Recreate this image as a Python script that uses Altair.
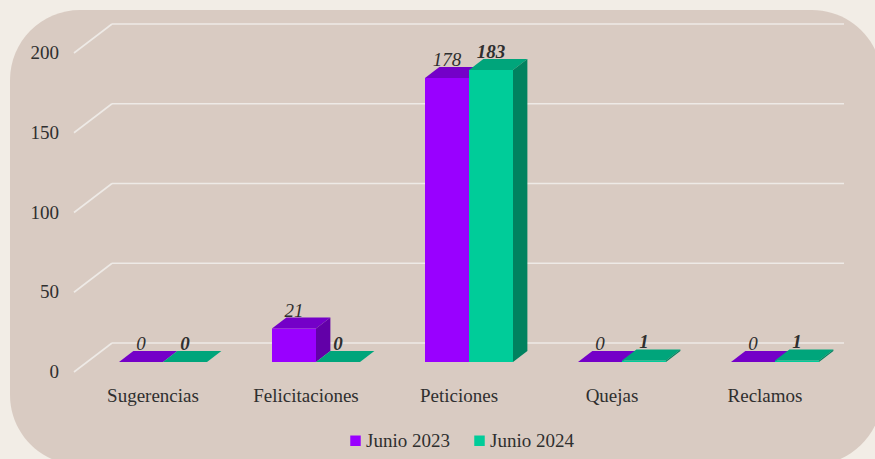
import altair as alt
import pandas as pd

categories = ["Sugerencias", "Felicitaciones", "Peticiones", "Quejas", "Reclamos"]
series = ["Junio 2023", "Junio 2024"]
junio_2023 = [0, 21, 178, 0, 0]
junio_2024 = [0, 0, 183, 1, 1]
y_ticks = [0, 50, 100, 150, 200]

front_colors = ["#9900ff", "#00cc99"]
top_colors = ["#7400c8", "#00a57b"]
side_colors = ["#6200a8", "#00825f"]
TEXT = "#2f2f2f"
FONT = "'Liberation Serif', 'Times New Roman', serif"

HALF = 0.2876   # bar width in category units
DX = 0.094      # depth offset (x, category units)
DY = 6.9        # depth offset (y, value units)

xs = alt.Scale(domain=[0, 5], range=[86.5, 851.5], nice=False, zero=False)
ys = alt.Scale(domain=[0, 200], range=[362, 43], nice=False, zero=False)

front_rows, top_rows, side_rows = [], [], []
for s_i, (name, vals) in enumerate(zip(series, [junio_2023, junio_2024])):
    for i, (cat, v) in enumerate(zip(categories, vals)):
        c = i + 0.5
        x0 = c - HALF + s_i * HALF
        x1 = x0 + HALF
        front_rows.append({"series": name, "cat": cat, "value": v, "x0": x0, "x1": x1,
                           "base": 0, "xm": (x0 + x1) / 2})
        top_rows.append({"series": name, "face": cat, "y": v, "xa": x0, "xb": x1})
        top_rows.append({"series": name, "face": cat, "y": v + DY, "xa": x0 + DX, "xb": x1 + DX})
        side_rows.append({"series": name, "face": cat, "x": x1, "ya": 0, "yb": v})
        side_rows.append({"series": name, "face": cat, "x": x1 + DX, "ya": DY, "yb": v + DY})

front = pd.DataFrame(front_rows)
top = pd.DataFrame(top_rows)
side = pd.DataFrame(side_rows)
ticks = pd.DataFrame({"tick": y_ticks})
cats = pd.DataFrame({"cat": categories, "pos": [i + 0.5 for i in range(len(categories))]})

panel = alt.Chart(pd.DataFrame({"a": [0]})).mark_rect(
    cornerRadius=70, color="#d9cbc2"
).encode(x=alt.value(10), x2=alt.value(882), y=alt.value(10), y2=alt.value(465))

grid_back = alt.Chart(ticks).mark_rule(color="#eeeae6", strokeWidth=1.6, yOffset=-19).encode(
    y=alt.Y("tick:Q", scale=ys, axis=None), x=alt.value(112), x2=alt.value(844)
)
grid_diag = alt.Chart(ticks).mark_rule(color="#eeeae6", strokeWidth=1.6, yOffset=10, y2Offset=-19).encode(
    y=alt.Y("tick:Q", scale=ys, axis=None), y2="tick:Q", x=alt.value(74), x2=alt.value(112)
)
tick_labels = alt.Chart(ticks).mark_text(
    align="right", baseline="alphabetic", font=FONT, fontSize=19, color=TEXT, yOffset=16
).encode(y=alt.Y("tick:Q", scale=ys, axis=None), x=alt.value(59), text="tick:Q")

cat_labels = alt.Chart(cats).mark_text(
    align="center", baseline="alphabetic", font=FONT, fontSize=19, color=TEXT, xOffset=-10
).encode(x=alt.X("pos:Q", scale=xs, axis=None), y=alt.value(402), text="cat:N")

layers = [panel, grid_back, grid_diag, tick_labels, cat_labels]

for s_i, name in enumerate(series):
    f = front[front["series"] == name]
    t = top[top["series"] == name]
    sd = side[side["series"] == name]
    front_layer = alt.Chart(f).mark_rect().encode(
        x=alt.X("x0:Q", scale=xs, axis=None), x2="x1:Q",
        y=alt.Y("value:Q", scale=ys, axis=None), y2="base:Q",
        color=alt.Color("series:N", scale=alt.Scale(domain=series, range=front_colors),
                        legend=alt.Legend(title=None, orient="none", legendX=346, legendY=431,
                                          direction="horizontal", symbolType="square",
                                          symbolSize=110, symbolStrokeWidth=0, symbolOpacity=1,
                                          labelFont=FONT, labelFontSize=19, labelColor=TEXT,
                                          labelOffset=1, columnPadding=20, padding=0)),
    )
    top_layer = alt.Chart(t).mark_area(orient="horizontal", color=top_colors[s_i]).encode(
        y=alt.Y("y:Q", scale=ys, axis=None),
        x=alt.X("xa:Q", scale=xs, axis=None, stack=None), x2="xb:Q",
        detail="face:N",
    )
    side_layer = alt.Chart(sd).mark_area(orient="vertical", color=side_colors[s_i]).encode(
        x=alt.X("x:Q", scale=xs, axis=None),
        y=alt.Y("ya:Q", scale=ys, axis=None, stack=None), y2="yb:Q",
        detail="face:N",
    )
    label_layer = alt.Chart(f).mark_text(
        align="center", baseline="alphabetic", font=FONT, fontSize=19, color=TEXT,
        fontStyle="italic", fontWeight="bold" if s_i == 1 else "normal", yOffset=-12,
    ).encode(x=alt.X("xm:Q", scale=xs, axis=None), y=alt.Y("value:Q", scale=ys, axis=None),
             text="value:Q")
    layers += [front_layer, top_layer, side_layer]
    layers.append(label_layer)

chart = alt.layer(*layers).properties(
    width=875, height=459, padding=0, autosize=alt.AutoSizeParams(type="none"),
    background="#f2ede6",
).configure_view(stroke=None)

chart.save("out.html", embed_options={"renderer": "svg", "actions": False})
